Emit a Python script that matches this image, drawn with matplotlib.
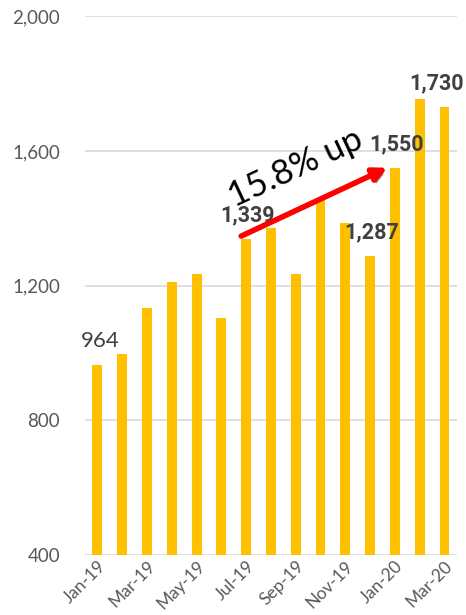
import numpy as np
import matplotlib
matplotlib.use('Agg')
from matplotlib import pyplot as plt
import matplotlib.patheffects as pe

months = ['Jan-19', 'Feb-19', 'Mar-19', 'Apr-19', 'May-19', 'Jun-19', 'Jul-19', 'Aug-19',
          'Sep-19', 'Oct-19', 'Nov-19', 'Dec-19', 'Jan-20', 'Feb-20', 'Mar-20']
values = [964, 996, 1133, 1211, 1233, 1105, 1339, 1370, 1235, 1454, 1387, 1287, 1550, 1753, 1730]
# months that carry a value label, and whether it is bold
labelled = {'Jan-19': False, 'Jul-19': True, 'Dec-19': True, 'Jan-20': True, 'Mar-20': True}
yticks = [400, 800, 1200, 1600, 2000]

plt.rcParams['font.family'] = ['Lato', 'DejaVu Sans']

fig = plt.figure(figsize=(4.66, 6.15), dpi=100)
ax = fig.add_axes([0.1824, 0.0976, 0.798, 0.876])

x = np.arange(len(months))
ax.bar(x, values, width=0.4, color='#FFC000', zorder=3)

ax.set_xlim(-0.5, len(months) - 0.5)
ax.set_ylim(400, 2000)
ax.set_yticks(yticks)
ax.set_yticklabels([f'{v:,}' for v in yticks], fontsize=13.5, color='#595959')
ax.grid(axis='y', color='#d9d9d9', linewidth=1.2, zorder=0)
ax.tick_params(axis='y', length=0, pad=18)
ax.tick_params(axis='x', length=0, pad=2)
ax.set_xticks(x[::2])
ax.set_xticklabels(months[::2], rotation=45, ha='right', rotation_mode='anchor',
                   fontsize=12.5, color='#595959')
for s in ax.spines.values():
    s.set_visible(False)

for m, bold in labelled.items():
    i = months.index(m)
    v = values[i]
    dx = -6 if i == len(months) - 1 else 1
    if bold:
        ax.annotate(f'{v:,}', (i, v), xytext=(dx, 9), textcoords='offset points',
                    ha='center', va='bottom', fontsize=15.5, fontweight='bold',
                    family=['Roboto', 'DejaVu Sans'], color='#404040', zorder=5)
    else:
        ax.annotate(f'{v:,}', (i, v), xytext=(2, 10), textcoords='offset points',
                    ha='center', va='bottom', fontsize=16, color='#404040', zorder=5)

# growth arrow from Jul-19 to Jan-20
i0, i1 = months.index('Jul-19'), months.index('Jan-20')
start = (i0 - 0.2, values[i0] + 8)
end = (i1 - 0.3, values[i1])
arr = ax.annotate('', xy=end, xytext=start,
                  xycoords='data', textcoords='data',
                  arrowprops=dict(arrowstyle='-|>,head_length=0.8,head_width=0.4', color='#ff0000',
                                  lw=4, shrinkA=0, shrinkB=0),
                  zorder=6)
arr.arrow_patch.set_path_effects([pe.SimplePatchShadow(offset=(1.5, -2.5), shadow_rgbFace='#808080', alpha=0.9),
                                  pe.Normal()])
pct = (values[i1] / values[i0] - 1) * 100
ax.text((start[0] + end[0]) / 2 - 0.75, (start[1] + end[1]) / 2 + 100, f'{pct:.1f}% up',
        rotation=25, ha='center', va='center', fontsize=25, color='black', zorder=6)

fig.savefig('out.png', dpi=100)
